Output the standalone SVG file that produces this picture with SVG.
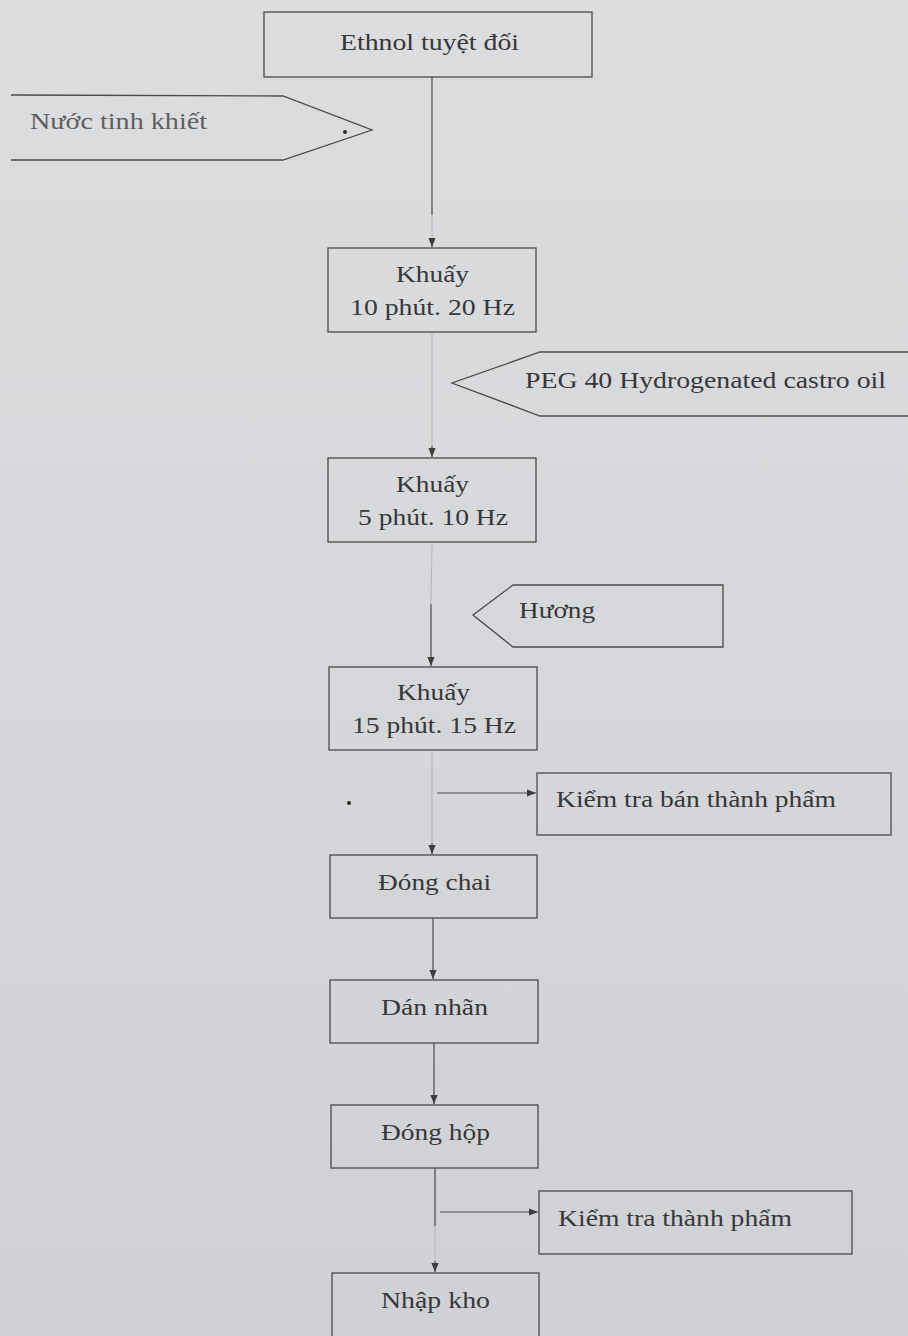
<svg xmlns="http://www.w3.org/2000/svg" width="908" height="1336" viewBox="0 0 908 1336">
<defs>
<linearGradient id="bg" x1="0" y1="0" x2="0" y2="1">
<stop offset="0" stop-color="#dcdddf"/>
<stop offset="1" stop-color="#cfd1d4"/>
</linearGradient>
<marker id="ah" viewBox="0 0 10 10" refX="10" refY="5" markerWidth="9" markerHeight="9" markerUnits="userSpaceOnUse" orient="auto">
<path d="M0,1 L10,5 L0,9 Z" fill="#3c3c3e"/>
</marker>
</defs>
<style>
.box{fill:none;stroke:#4a4a4c;stroke-width:1.3}
.t{font-family:"Liberation Serif","Times New Roman",serif;font-size:23px;fill:#38383a}
.c{text-anchor:middle}
.ln{fill:none;stroke:#4a4a4c;stroke-width:1.2}
.fd{fill:none;stroke:#b4b6b9;stroke-width:1}
</style>
<rect width="908" height="1336" fill="url(#bg)"/>

<g id="connectors">
<line class="ln" x1="432" y1="77" x2="432" y2="215"/>
<line class="fd" x1="432" y1="215" x2="432" y2="238"/>
<line class="ln" x1="432" y1="238" x2="432" y2="247" marker-end="url(#ah)"/>
<line class="fd" x1="432" y1="332" x2="432" y2="446"/>
<line class="ln" x1="432" y1="446" x2="432" y2="457" marker-end="url(#ah)"/>
<line class="fd" x1="432" y1="542" x2="431" y2="604"/>
<line class="ln" x1="431" y1="604" x2="431" y2="666" marker-end="url(#ah)"/>
<line class="fd" x1="432" y1="750" x2="432" y2="843"/>
<line class="ln" x1="432" y1="843" x2="432" y2="854" marker-end="url(#ah)"/>
<line class="ln" x1="437" y1="793" x2="536" y2="793" marker-end="url(#ah)"/>
<line class="ln" x1="433" y1="918" x2="433" y2="979" marker-end="url(#ah)"/>
<line class="ln" x1="434" y1="1043" x2="434" y2="1104" marker-end="url(#ah)"/>
<line class="ln" x1="435" y1="1168" x2="435" y2="1226"/>
<line class="fd" x1="435" y1="1226" x2="435" y2="1261"/>
<line class="ln" x1="435" y1="1261" x2="435" y2="1272" marker-end="url(#ah)"/>
<line class="ln" x1="440" y1="1212" x2="538" y2="1212" marker-end="url(#ah)"/>
<circle cx="345" cy="132" r="2" fill="#2a2a2a"/>
<circle cx="349" cy="803" r="2" fill="#2a2a2a"/>
</g>

<g id="n-ethanol">
<rect class="box" x="264" y="12" width="328" height="65"/>
<text class="t" x="340" y="50" textLength="179" lengthAdjust="spacingAndGlyphs">Ethnol tuyệt đối</text>
</g>

<g id="n-nuoc">
<path class="box" d="M11,95 L283,96 L372,130 L283,160 L11,160"/>
<text class="t" x="30" y="129" textLength="177" lengthAdjust="spacingAndGlyphs" style="fill:#5e5f61">Nước tinh khiết</text>
</g>

<g id="n-khuay1">
<rect class="box" x="328" y="248" width="208" height="84"/>
<text class="t" x="396" y="282" textLength="73" lengthAdjust="spacingAndGlyphs">Khuấy</text>
<text class="t" x="350" y="315" textLength="165" lengthAdjust="spacingAndGlyphs">10 phút. 20 Hz</text>
</g>

<g id="n-peg">
<path class="box" d="M910,352 L540,352 L452,383 L540,416 L910,416"/>
<text class="t" x="525" y="388" textLength="361" lengthAdjust="spacingAndGlyphs">PEG 40 Hydrogenated castro oil</text>
</g>

<g id="n-khuay2">
<rect class="box" x="328" y="458" width="208" height="84"/>
<text class="t" x="396" y="492" textLength="73" lengthAdjust="spacingAndGlyphs">Khuấy</text>
<text class="t" x="358" y="525" textLength="150" lengthAdjust="spacingAndGlyphs">5 phút. 10 Hz</text>
</g>

<g id="n-huong">
<path class="box" d="M723,585 L513,585 L473,615 L513,647 L723,647 Z"/>
<text class="t" x="519" y="618" textLength="76" lengthAdjust="spacingAndGlyphs">Hương</text>
</g>

<g id="n-khuay3">
<rect class="box" x="329" y="667" width="208" height="83"/>
<text class="t" x="397" y="700" textLength="73" lengthAdjust="spacingAndGlyphs">Khuấy</text>
<text class="t" x="352" y="733" textLength="164" lengthAdjust="spacingAndGlyphs">15 phút. 15 Hz</text>
</g>

<g id="n-ktbtp">
<rect class="box" x="537" y="773" width="354" height="62"/>
<text class="t" x="556" y="807" textLength="280" lengthAdjust="spacingAndGlyphs">Kiểm tra bán thành phẩm</text>
</g>

<g id="n-dongchai">
<rect class="box" x="330" y="855" width="207" height="63"/>
<text class="t" x="378" y="890" textLength="113" lengthAdjust="spacingAndGlyphs">Đóng chai</text>
</g>

<g id="n-dannhan">
<rect class="box" x="330" y="980" width="208" height="63"/>
<text class="t" x="381" y="1015" textLength="107" lengthAdjust="spacingAndGlyphs">Dán nhãn</text>
</g>

<g id="n-donghop">
<rect class="box" x="331" y="1105" width="207" height="63"/>
<text class="t" x="381" y="1140" textLength="109" lengthAdjust="spacingAndGlyphs">Đóng hộp</text>
</g>

<g id="n-kttp">
<rect class="box" x="539" y="1191" width="313" height="63"/>
<text class="t" x="558" y="1226" textLength="234" lengthAdjust="spacingAndGlyphs">Kiểm tra thành phẩm</text>
</g>

<g id="n-nhapkho">
<rect class="box" x="332" y="1273" width="207" height="70"/>
<text class="t" x="381" y="1308" textLength="109" lengthAdjust="spacingAndGlyphs">Nhập kho</text>
</g>
</svg>
